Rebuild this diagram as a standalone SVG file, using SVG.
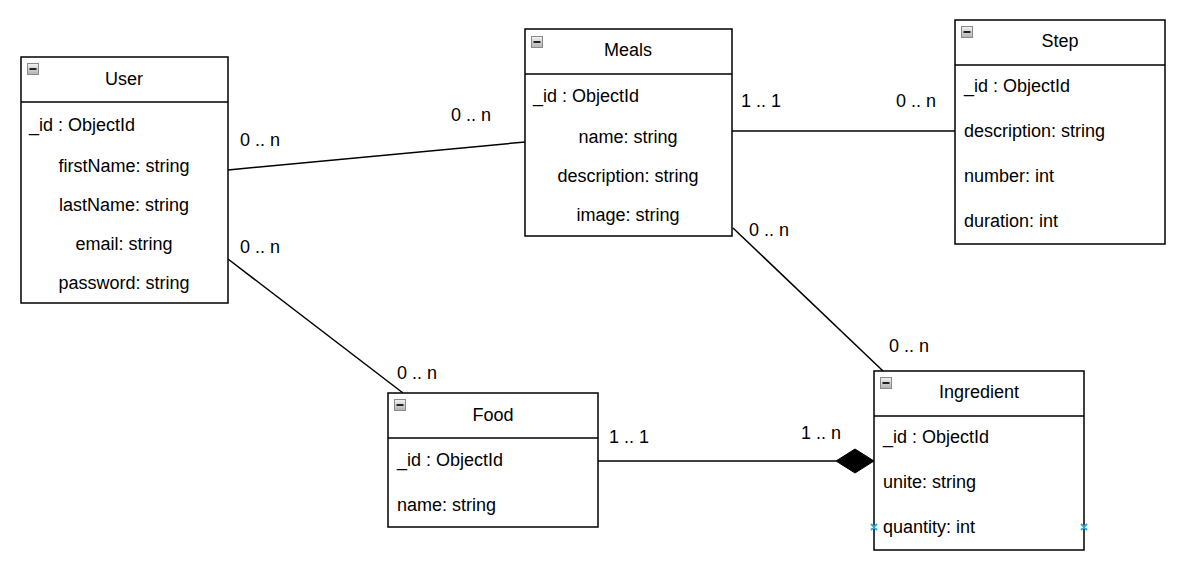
<svg xmlns="http://www.w3.org/2000/svg" width="1194" height="576" viewBox="0 0 1194 576">
<style>
.box{fill:#fff;stroke:#000;stroke-width:1.5}
.div{stroke:#000;stroke-width:1.5}
.t{font-family:"Liberation Sans",Arial,sans-serif;font-size:18px;fill:#000}
.c{text-anchor:middle}
.ln{stroke:#000;stroke-width:1.5;fill:none}
.ic{fill:url(#ig);stroke:#8a8a8a;stroke-width:1}
.bar{stroke:#222;stroke-width:2}
.px{stroke:#29a9e0;stroke-width:1.8}
</style>
<defs>
<linearGradient id="ig" x1="0" y1="0" x2="0" y2="1">
<stop offset="0" stop-color="#f4f4f4"/>
<stop offset="1" stop-color="#b0b0b0"/>
</linearGradient>
<g id="icon">
<rect class="ic" x="0.5" y="0.5" width="11" height="11"/>
<line class="bar" x1="2.5" y1="6" x2="9.5" y2="6"/>
</g>
</defs>
<rect width="1194" height="576" fill="#fff"/>

<g id="connectors">
<line class="ln" x1="228" y1="170" x2="525" y2="142"/>
<line class="ln" x1="732" y1="131" x2="955" y2="131"/>
<line class="ln" x1="733" y1="228" x2="883" y2="371"/>
<line class="ln" x1="228" y1="259" x2="403" y2="393"/>
<line class="ln" x1="598" y1="461" x2="836" y2="461"/>
<polygon points="874,461 855,449 836,461 855,473" fill="#000" stroke="#000" stroke-width="1"/>
<text class="t" x="240" y="146">0 .. n</text>
<text class="t" x="451" y="121">0 .. n</text>
<text class="t" x="741" y="107">1 .. 1</text>
<text class="t" x="896" y="107">0 .. n</text>
<text class="t" x="749" y="236">0 .. n</text>
<text class="t" x="889" y="352">0 .. n</text>
<text class="t" x="240" y="253">0 .. n</text>
<text class="t" x="397" y="379">0 .. n</text>
<text class="t" x="609" y="443">1 .. 1</text>
<text class="t" x="801" y="439">1 .. n</text>
</g>

<g id="user">
<rect class="box" x="21" y="57" width="207" height="246"/>
<line class="div" x1="21" y1="102" x2="228" y2="102"/>
<use href="#icon" x="27" y="63"/>
<text class="t c" x="124" y="85">User</text>
<text class="t" x="29" y="131">_id : ObjectId</text>
<text class="t c" x="124" y="172">firstName: string</text>
<text class="t c" x="124" y="211">lastName: string</text>
<text class="t c" x="124" y="250">email: string</text>
<text class="t c" x="124" y="289">password: string</text>
</g>

<g id="meals">
<rect class="box" x="525" y="29" width="207" height="207"/>
<line class="div" x1="525" y1="74" x2="732" y2="74"/>
<use href="#icon" x="531" y="36"/>
<text class="t c" x="628" y="56">Meals</text>
<text class="t" x="533" y="102">_id : ObjectId</text>
<text class="t c" x="628" y="143">name: string</text>
<text class="t c" x="628" y="182">description: string</text>
<text class="t c" x="628" y="221">image: string</text>
</g>

<g id="step">
<rect class="box" x="955" y="20" width="210" height="224"/>
<line class="div" x1="955" y1="65" x2="1165" y2="65"/>
<use href="#icon" x="961" y="26"/>
<text class="t c" x="1060" y="47">Step</text>
<text class="t" x="964" y="92">_id : ObjectId</text>
<text class="t" x="964" y="137">description: string</text>
<text class="t" x="964" y="182">number: int</text>
<text class="t" x="964" y="227">duration: int</text>
</g>

<g id="food">
<rect class="box" x="388" y="393" width="210" height="134"/>
<line class="div" x1="388" y1="438" x2="598" y2="438"/>
<use href="#icon" x="394" y="399"/>
<text class="t c" x="493" y="421">Food</text>
<text class="t" x="397" y="466">_id : ObjectId</text>
<text class="t" x="397" y="511">name: string</text>
</g>

<g id="ingredient">
<rect class="box" x="874" y="371" width="210" height="179"/>
<line class="div" x1="874" y1="416" x2="1084" y2="416"/>
<use href="#icon" x="880" y="377"/>
<text class="t c" x="979" y="398">Ingredient</text>
<text class="t" x="883" y="443">_id : ObjectId</text>
<text class="t" x="883" y="488">unite: string</text>
<text class="t" x="883" y="533">quantity: int</text>
<path class="px" d="M871,524l6,6M877,524l-6,6M1081,524l6,6M1087,524l-6,6"/>
</g>
</svg>
